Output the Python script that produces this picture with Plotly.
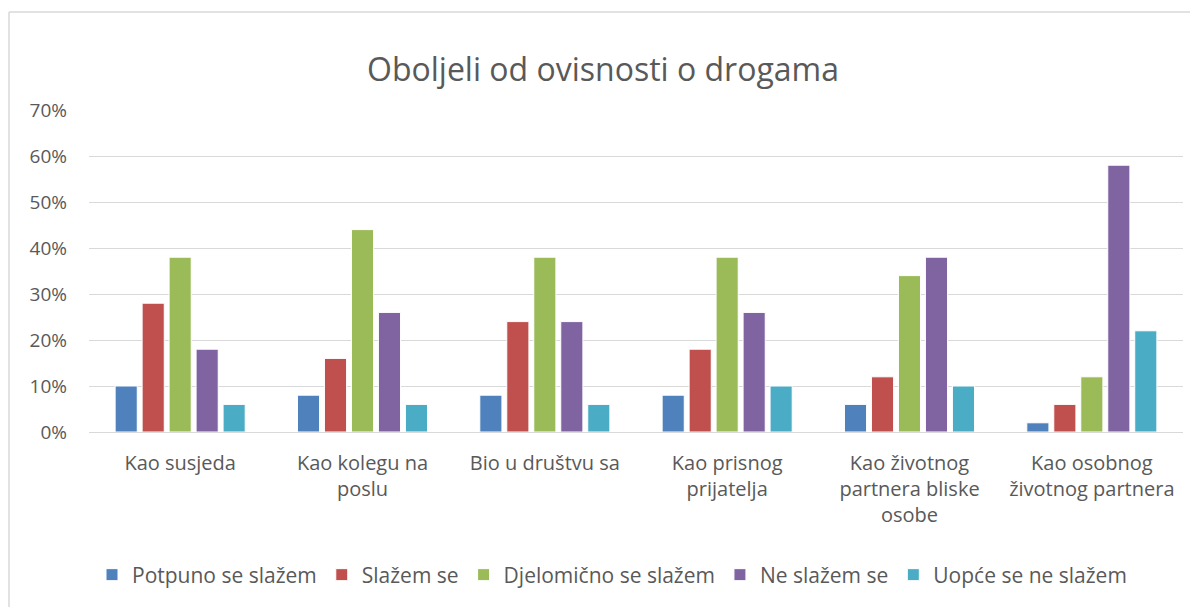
import plotly.graph_objects as go

categories = [
    "Kao susjeda",
    "Kao kolegu na<br>poslu",
    "Bio u društvu sa",
    "Kao prisnog<br>prijatelja",
    "Kao životnog<br>partnera bliske<br>osobe",
    "Kao osobnog<br>životnog partnera",
]
series_names = ["Potpuno se slažem", "Slažem se", "Djelomično se slažem", "Ne slažem se", "Uopće se ne slažem"]
potpuno = [0.10, 0.08, 0.08, 0.08, 0.06, 0.02]
slazem = [0.28, 0.16, 0.24, 0.18, 0.12, 0.06]
djelomicno = [0.38, 0.44, 0.38, 0.38, 0.34, 0.12]
ne_slazem = [0.18, 0.26, 0.24, 0.26, 0.38, 0.58]
uopce = [0.06, 0.06, 0.06, 0.10, 0.10, 0.22]
y_ticks = [0, 0.1, 0.2, 0.3, 0.4, 0.5, 0.6, 0.7]
y_tick_labels = ["0%", "10%", "20%", "30%", "40%", "50%", "60%", "70%"]

colors = ["#4F81BD", "#C0504D", "#9BBB59", "#8064A2", "#4BACC6"]
all_values = [potpuno, slazem, djelomicno, ne_slazem, uopce]

FONT = "Open Sans, Noto Sans, sans-serif"
TXT = "#595959"

fig = go.Figure()
for name, vals, col in zip(series_names, all_values, colors):
    fig.add_trace(go.Bar(
        name=name, x=categories, y=vals,
        marker=dict(color=col, line=dict(color="white", width=1)),
    ))

# page has an 8px body margin, so the figure is 8px smaller and coordinates shift by 8
OFF = 8
W, H = 1198 - OFF, 607 - OFF
L, R, T, B = 89 - OFF, 15, 110 - OFF, 175
pw, ph = W - L - R, H - T - B

def px_x(px):
    return (px - OFF - L) / pw

def px_y(py):
    return (H - B - (py - OFF)) / ph

shapes = [
    dict(type="line", xref="paper", yref="paper",
         x0=px_x(9), x1=px_x(1198), y0=px_y(12), y1=px_y(12),
         line=dict(color="#D9D9D9", width=1.5)),
    dict(type="line", xref="paper", yref="paper",
         x0=px_x(9), x1=px_x(9), y0=px_y(12), y1=px_y(607),
         line=dict(color="#D9D9D9", width=1.5)),
]

fig.update_layout(
    width=W, height=H,
    margin=dict(l=L, r=R, t=T, b=B),
    paper_bgcolor="white", plot_bgcolor="white",
    barmode="group", bargap=0.26, bargroupgap=0.18,
    font=dict(family=FONT, color=TXT, size=20),
    title=dict(text="Oboljeli od ovisnosti o drogama", x=0.5, xanchor="center",
               y=1 - (70 - OFF) / H, yanchor="middle",
               font=dict(family=FONT, size=32, color=TXT)),
    xaxis=dict(showgrid=False, showline=False, ticks="",
               tickfont=dict(size=20, color=TXT), ticklabelstandoff=17),
    yaxis=dict(range=[0, 0.7], tickvals=y_ticks, ticktext=y_tick_labels,
               showgrid=True, gridcolor="#D9D9D9", gridwidth=1,
               zeroline=True, zerolinecolor="#D9D9D9", zerolinewidth=1,
               showline=False, ticks="", ticklabelstandoff=21,
               tickfont=dict(size=19, color=TXT)),
    legend=dict(orientation="h", x=px_x(612), xanchor="center",
                y=px_y(575), yanchor="middle",
                font=dict(size=21, color=TXT), itemwidth=30,
                traceorder="normal"),
    shapes=shapes,
)

fig.write_html("out.html")
